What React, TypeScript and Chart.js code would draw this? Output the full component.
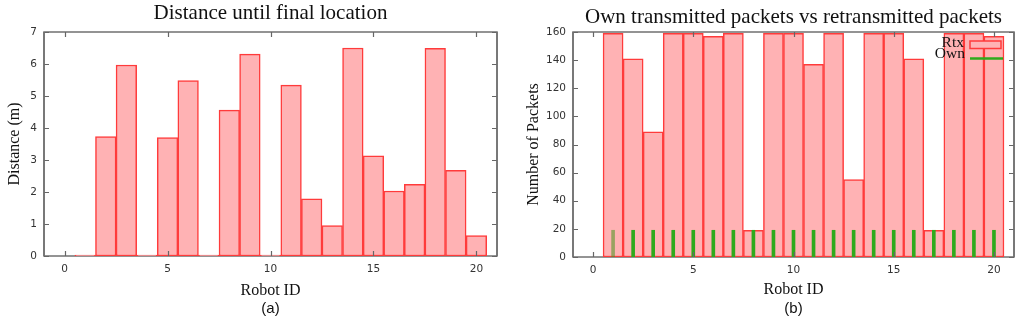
import React, { useEffect, useRef } from 'react';
import { Chart, registerables } from 'chart.js';

Chart.register(...registerables);

// ---------- data ----------
const robotIds = [1, 2, 3, 4, 5, 6, 7, 8, 9, 10, 11, 12, 13, 14, 15, 16, 17, 18, 19, 20];
const distanceValues = [0.03, 3.73, 5.97, 0.03, 3.7, 5.48, 0.03, 4.56, 6.31, 0.03, 5.34, 1.79, 0.95, 6.5, 3.13, 2.03, 2.24, 6.49, 2.68, 0.64];
const rtxValues = [159, 141, 89, 159, 159, 157, 159, 19, 159, 159, 137, 159, 55, 159, 159, 141, 19, 159, 159, 157];
const ownValues = [19, 19, 19, 19, 19, 19, 19, 19, 19, 19, 19, 19, 19, 19, 19, 19, 19, 19, 19, 19];
const xTickValues = [0, 5, 10, 15, 20];
const distanceTickValues = [0, 1, 2, 3, 4, 5, 6, 7];
const packetTickValues = [0, 20, 40, 60, 80, 100, 120, 140, 160];

const PINK = '#ffb2b4';
const RED = '#ff3b3b';
const GREEN = '#2faa1c';
const GREEN_FADED = 'rgba(70,150,30,0.55)';

const SERIF = '"Liberation Serif", "Times New Roman", serif';
const SANS = '"DejaVu Sans", sans-serif';

// ---------- decoration plugin (frame, inward ticks, titles, legend) ----------
const decorPlugin = {
  id: 'decor',
  beforeDatasetsDraw(chart: any) {
    const { ctx, chartArea } = chart;
    const { left, right, top, bottom } = chartArea;
    ctx.save();
    ctx.strokeStyle = '#707070';
    ctx.lineWidth = 1.5;
    ctx.strokeRect(left, top, right - left, bottom - top);
    ctx.restore();
  },
  afterDraw(chart: any, _args: any, opts: any) {
    const { ctx, chartArea } = chart;
    const { left, right, top, bottom } = chartArea;
    const xs = chart.scales.x;
    const ys = chart.scales.y;
    ctx.save();
    // inward ticks
    ctx.strokeStyle = '#666';
    ctx.lineWidth = 1.2;
    ctx.beginPath();
    xs.ticks.forEach((t: any) => {
      const px = Math.round(xs.getPixelForValue(t.value)) + 0.5;
      ctx.moveTo(px, bottom);
      ctx.lineTo(px, bottom - 5);
      ctx.moveTo(px, top);
      ctx.lineTo(px, top + 5);
    });
    ys.ticks.forEach((t: any) => {
      const py = Math.round(ys.getPixelForValue(t.value)) + 0.5;
      ctx.moveTo(left, py);
      ctx.lineTo(left + 5, py);
      ctx.moveTo(right, py);
      ctx.lineTo(right - 5, py);
    });
    ctx.stroke();
    // frame sides (left/right stay on top)
    ctx.strokeStyle = '#707070';
    ctx.lineWidth = 1.5;
    ctx.beginPath();
    ctx.moveTo(left, top);
    ctx.lineTo(left, bottom);
    ctx.moveTo(right, top);
    ctx.lineTo(right, bottom);
    ctx.stroke();

    const cx = (left + right) / 2;
    ctx.fillStyle = '#111';
    ctx.textAlign = 'center';
    ctx.textBaseline = 'alphabetic';
    ctx.font = `21px ${SERIF}`;
    ctx.fillText(opts.title, cx, opts.titleBaseline);
    ctx.font = `15px "Liberation Sans", Arial, sans-serif`;
    ctx.fillText(opts.caption, cx, opts.captionBaseline);

    if (opts.legend) {
      ctx.font = `15.5px ${SERIF}`;
      ctx.textAlign = 'right';
      const rtx = chart.data.datasets[0];
      const own = chart.data.datasets[1];
      ctx.fillStyle = '#111';
      ctx.fillText(rtx.label, right - 50, top + 15);
      ctx.fillText(own.label, right - 49, top + 25.5);
      ctx.fillStyle = rtx.backgroundColor;
      ctx.fillRect(right - 44, top + 9, 31, 7.5);
      ctx.strokeStyle = rtx.borderColor;
      ctx.lineWidth = 1.5;
      ctx.strokeRect(right - 44, top + 9, 31, 7.5);
      ctx.strokeStyle = GREEN;
      ctx.lineWidth = 2.5;
      ctx.beginPath();
      ctx.moveTo(right - 44, top + 26.5);
      ctx.lineTo(right - 11, top + 26.5);
      ctx.stroke();
    }
    ctx.restore();
  },
};

function makeOptions(p: {
  yTicks: number[];
  yMax: number;
  yTitle: string;
  yWidth: number;
  yTitlePad: number;
  xHeight: number;
  xTitlePad: number;
  padRight: number;
  title: string;
  titleBaseline: number;
  caption: string;
  legend: boolean;
}) {
  return {
    responsive: false,
    animation: false,
    devicePixelRatio: 1,
    layout: { padding: { top: 32, bottom: 25, left: 0, right: p.padRight } },
    plugins: {
      legend: { display: false },
      tooltip: { enabled: false },
      title: { display: false },
      decor: {
        title: p.title,
        titleBaseline: p.titleBaseline,
        caption: p.caption,
        captionBaseline: 313,
        legend: p.legend,
      },
    },
    scales: {
      x: {
        type: 'linear',
        min: -1,
        max: 21,
        offset: false,
        afterBuildTicks: (s: any) => {
          s.ticks = xTickValues.map((v) => ({ value: v }));
        },
        afterFit: (s: any) => {
          s.height = p.xHeight;
        },
        grid: { display: false, drawTicks: false, offset: false },
        border: { display: false },
        ticks: { padding: 7, color: '#333', font: { family: SANS, size: 10.5 }, maxRotation: 0 },
        title: {
          display: true,
          text: 'Robot ID',
          color: '#111',
          font: { family: SERIF, size: 16 },
          padding: { top: 0, bottom: p.xTitlePad },
        },
      },
      y: {
        type: 'linear',
        min: 0,
        max: p.yMax,
        afterBuildTicks: (s: any) => {
          s.ticks = p.yTicks.map((v) => ({ value: v }));
        },
        afterFit: (s: any) => {
          s.width = p.yWidth;
        },
        grid: { display: false, drawTicks: false },
        border: { display: false },
        ticks: { padding: 7, color: '#333', font: { family: SANS, size: 10.5 } },
        title: {
          display: true,
          text: p.yTitle,
          color: '#111',
          font: { family: SERIF, size: 16 },
          padding: { top: p.yTitlePad, bottom: 0 },
        },
      },
    },
  };
}

function ChartPanel({ build, left }: { build: () => any; left: number }) {
  const ref = useRef<HTMLCanvasElement | null>(null);
  useEffect(() => {
    if (!ref.current) return;
    const chart = new Chart(ref.current, build());
    return () => chart.destroy();
  }, []);
  return (
    <div style={{ position: 'absolute', left, top: 0, width: 512, height: 325 }}>
      <canvas ref={ref} width={512} height={325} style={{ display: 'block' }} />
    </div>
  );
}

const buildDistance = () => ({
  type: 'bar',
  data: {
    datasets: [
      {
        label: 'Distance',
        data: robotIds.map((id, i) => ({ x: id, y: distanceValues[i] })),
        backgroundColor: PINK,
        borderColor: RED,
        borderWidth: 1.5,
        borderSkipped: false,
        barPercentage: 1,
        categoryPercentage: 1,
        grouped: false,
      },
    ],
  },
  options: makeOptions({
    yTicks: distanceTickValues,
    yMax: 7,
    yTitle: 'Distance (m)',
    yWidth: 44,
    yTitlePad: 5,
    xHeight: 44,
    xTitlePad: 0,
    padRight: 15,
    title: 'Distance until final location',
    titleBaseline: 18.5,
    caption: '(a)',
    legend: false,
  }),
  plugins: [decorPlugin],
});

const buildPackets = () => ({
  type: 'bar',
  data: {
    datasets: [
      {
        label: 'Rtx',
        order: 1,
        data: robotIds.map((id, i) => ({ x: id, y: rtxValues[i] })),
        backgroundColor: PINK,
        borderColor: RED,
        borderWidth: 1.5,
        borderSkipped: false,
        barPercentage: 1,
        categoryPercentage: 1,
        grouped: false,
      },
      {
        label: 'Own',
        order: 0,
        data: robotIds.map((id, i) => ({ x: id, y: ownValues[i] })),
        backgroundColor: robotIds.map((_, i) => (i === 0 ? GREEN_FADED : GREEN)),
        borderWidth: 0,
        barThickness: 3,
        grouped: false,
      },
    ],
  },
  options: makeOptions({
    yTicks: packetTickValues,
    yMax: 160,
    yTitle: 'Number of Packets',
    yWidth: 61,
    yTitlePad: 12,
    xHeight: 43,
    xTitlePad: 1,
    padRight: 10,
    title: 'Own transmitted packets vs retransmitted packets',
    titleBaseline: 23,
    caption: '(b)',
    legend: true,
  }),
  plugins: [decorPlugin],
});

export default function App() {
  return (
    <div
      style={{
        position: 'fixed',
        left: 0,
        top: 0,
        width: 1024,
        height: 325,
        background: '#fff',
        overflow: 'hidden',
      }}
    >
      <ChartPanel build={buildDistance} left={0} />
      <ChartPanel build={buildPackets} left={512} />
    </div>
  );
}
